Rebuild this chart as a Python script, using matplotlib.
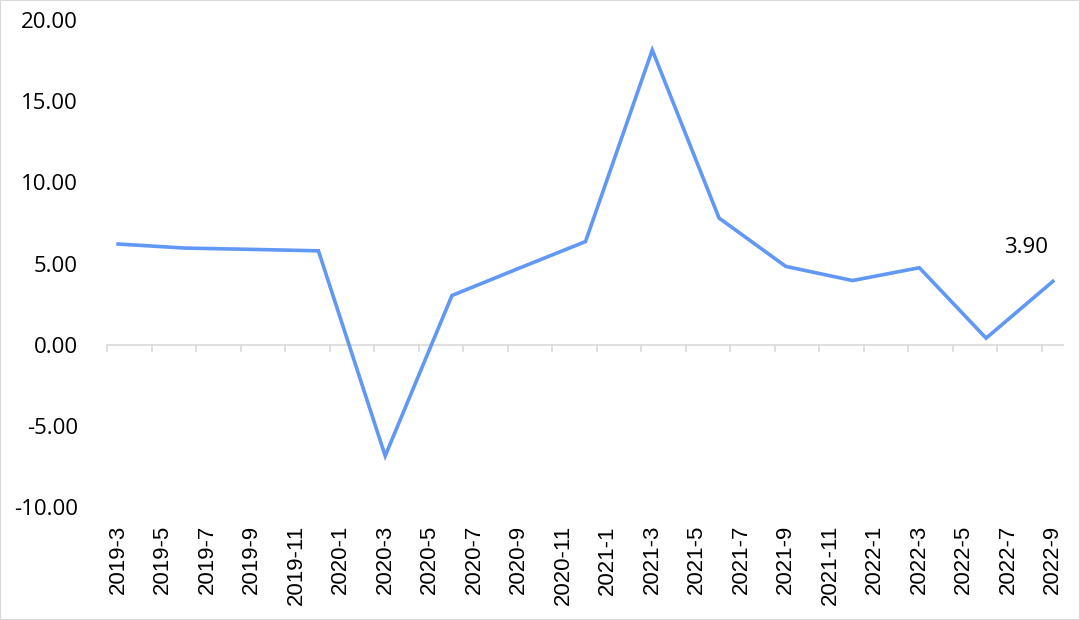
import numpy as np
import matplotlib
matplotlib.use('Agg')
import matplotlib.pyplot as plt
from matplotlib.patches import Rectangle

# quarterly values, month index counted from 2019-3
months = [0, 3, 6, 9, 12, 15, 18, 21, 24, 27, 30, 33, 36, 39, 42]
values = [6.2, 5.95, 5.87, 5.78, -6.85, 3.03, 4.7, 6.35, 18.15, 7.8, 4.82, 3.95, 4.74, 0.4, 3.9]
tick_labels = ['2019-3', '2019-5', '2019-7', '2019-9', '2019-11',
               '2020-1', '2020-3', '2020-5', '2020-7', '2020-9', '2020-11',
               '2021-1', '2021-3', '2021-5', '2021-7', '2021-9', '2021-11',
               '2022-1', '2022-3', '2022-5', '2022-7', '2022-9']
last_label = '3.90'

fig = plt.figure(figsize=(10.8, 6.2), dpi=100)
ax = fig.add_axes([107/1080, 1 - 507/620, (1064 - 107)/1080, (507 - 20)/620])

ax.plot(months, values, color='#6197F5', lw=2.6, solid_joinstyle='miter')

ax.set_xlim(-0.5, 42.5)
ax.set_ylim(-10, 20)
yt = np.arange(-10, 21, 5)
ax.set_yticks(yt)
ax.set_yticklabels(['%.2f' % v for v in yt], fontsize=16, family='Open Sans')
ax.tick_params(axis='y', length=0, pad=21)

for s in ax.spines.values():
    s.set_visible(False)

# zero line with tick marks hanging below it
ax.axhline(0, color='#d9d9d9', lw=1.2, zorder=1)
for t in np.arange(-0.5, 42, 2):
    ax.plot([t, t], [0, -0.37], color='#d9d9d9', lw=1.2, zorder=1, clip_on=False)

ax.set_xticks(np.arange(0, 43, 2))
ax.set_xticklabels(tick_labels, rotation=90, fontsize=16, family='Liberation Sans')
ax.tick_params(axis='x', length=0, pad=13)

ax.annotate(last_label, (months[-1], values[-1]), xytext=(-19.5, 24.5),
            textcoords='offset points', ha='center', va='center',
            fontsize=16, family='Open Sans')

fig.patches.append(Rectangle((0, 0), 1, 1, transform=fig.transFigure,
                             fill=False, edgecolor='#d9d9d9', lw=1.5))

fig.savefig('out.png', dpi=100)
